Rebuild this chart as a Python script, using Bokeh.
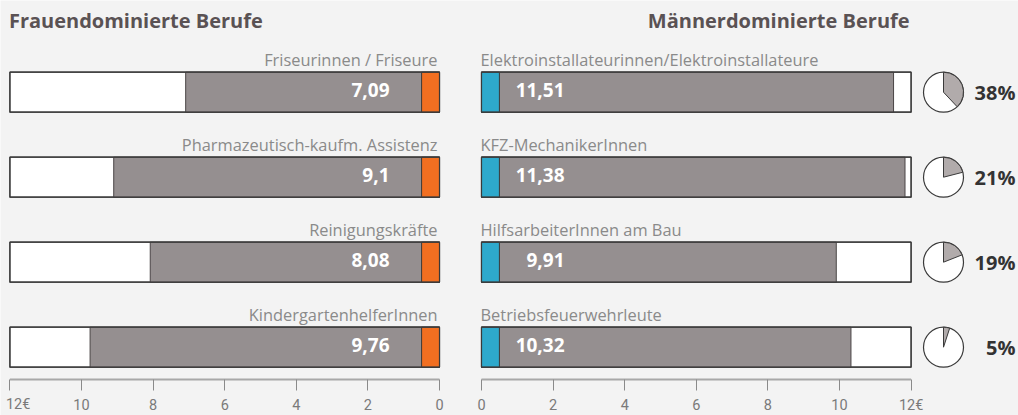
import math
from bokeh.plotting import figure
from bokeh.models import Range1d, LinearAxis, FixedTicker, CustomJSTickFormatter
from bokeh.core.properties import value
from bokeh.embed import file_html
from bokeh.resources import INLINE

# ---------------- data ----------------
title_women = "Frauendominierte Berufe"
title_men = "Männerdominierte Berufe"

women_jobs = ["Friseurinnen / Friseure", "Pharmazeutisch-kaufm. Assistenz",
              "Reinigungskräfte", "KindergartenhelferInnen"]
women_wage = [7.09, 9.10, 8.08, 9.76]
women_wage_text = ["7,09", "9,1", "8,08", "9,76"]

men_jobs = ["Elektroinstallateurinnen/Elektroinstallateure", "KFZ-MechanikerInnen",
            "HilfsarbeiterInnen am Bau", "Betriebsfeuerwehrleute"]
men_wage = [11.51, 11.83, 9.91, 10.32]          # bar lengths as drawn
men_wage_text = ["11,51", "11,38", "9,91", "10,32"]

women_share = [38, 21, 19, 5]                    # share of women, %
share_text = ["38%", "21%", "19%", "5%"]

scale_max = 12
marker_size = 0.5
tick_values = [0, 2, 4, 6, 8, 10, 12]
tick_unit = "€"

# ---------------- layout (pixels) ----------------
W, H = 1018, 415
PX = 35.8            # pixels per euro
ZERO_L = 439         # px of the women's 0
ZERO_R = 481         # px of the men's 0
CENTER = (ZERO_L + ZERO_R) / 2
ROW0 = 91.7          # px of first row centre
ROW_STEP = 85.0
AXIS_PX = 380
BAR_PX = 40
PIE_PX = 943
PCT_PX = 1015

BG = "#f3f3f3"
GREY = "#958f90"
PIE_GREY = "#b1abab"
EDGE = "#3a3a3a"
LABEL = "#8a8a8a"
TITLE = "#5a5254"
ORANGE = "#f26f21"
BLUE = "#2ea9cc"
FONT = "Open Sans"
TICK_FONT = "Roboto"
TICK_COLOR = "#7a7a7a"

rows = list(range(len(women_jobs)))
bar_h = BAR_PX / ROW_STEP
g = (ZERO_R - CENTER) / PX


def y_of(px):
    return (px - ROW0) / ROW_STEP


p = figure(width=W, height=H, output_backend="svg", toolbar_location=None,
           x_range=Range1d(-CENTER / PX, (W - CENTER) / PX),
           y_range=Range1d(y_of(H), y_of(0)),
           x_axis_location=None, y_axis_location=None,
           min_border_left=0, min_border_right=0, min_border_top=0, min_border_bottom=0,
           background_fill_color=BG, border_fill_color=BG, outline_line_color=None)
p.grid.visible = False
p.extra_x_ranges = {
    "women": Range1d(ZERO_L / PX, (ZERO_L - W) / PX),
    "men": Range1d(-ZERO_R / PX, (W - ZERO_R) / PX),
}

# ---------------- bars ----------------
for rng, wages, marker_col in (("women", women_wage, ORANGE), ("men", men_wage, BLUE)):
    p.hbar(y=rows, left=0, right=scale_max, height=bar_h, x_range_name=rng,
           fill_color="white", line_color=EDGE, line_width=1.2)
    p.hbar(y=rows, left=0, right=wages, height=bar_h, x_range_name=rng,
           fill_color=GREY, line_color="#4a4546", line_width=1)
    p.hbar(y=rows, left=0, right=marker_size, height=bar_h, x_range_name=rng,
           fill_color=marker_col, line_color=EDGE, line_width=1)
    p.hbar(y=rows, left=0, right=scale_max, height=bar_h, x_range_name=rng,
           fill_color=None, line_color=EDGE, line_width=1.2)

# ---------------- texts ----------------
p.text(x=0, y=rows, text=women_jobs, x_range_name="women", x_offset=-2, y_offset=-32.5,
       text_align="right", text_baseline="middle", text_color=LABEL,
       text_font=value(FONT), text_font_size="16.4px")
p.text(x=0, y=rows, text=men_jobs, x_range_name="men", x_offset=-1, y_offset=-32.5,
       text_align="left", text_baseline="middle", text_color=LABEL,
       text_font=value(FONT), text_font_size="16.4px")

p.text(x=0, y=rows, text=women_wage_text, x_range_name="women", x_offset=-50, y_offset=-2,
       text_align="right", text_baseline="middle", text_color="white",
       text_font=value(FONT), text_font_style="bold", text_font_size="19px")
p.text(x=0, y=rows, text=men_wage_text, x_range_name="men", x_offset=83, y_offset=-2,
       text_align="right", text_baseline="middle", text_color="white",
       text_font=value(FONT), text_font_style="bold", text_font_size="19px")

title_y = y_of(19.5)
p.text(x=[scale_max], y=[title_y], text=[title_women], x_range_name="women", x_offset=-1,
       text_align="left", text_baseline="middle", text_color=TITLE,
       text_font=value(FONT), text_font_style="bold", text_font_size="20px")
p.text(x=[scale_max], y=[title_y], text=[title_men], x_range_name="men", x_offset=-1.5,
       text_align="right", text_baseline="middle", text_color=TITLE,
       text_font=value(FONT), text_font_style="bold", text_font_size="20px")

# ---------------- pies ----------------
pie_x = (PIE_PX - ZERO_R) / PX
p.scatter(x=pie_x, y=rows, size=40, marker="circle", x_range_name="men",
          fill_color="white", line_color=EDGE, line_width=1.2)
p.wedge(x=pie_x, y=rows, radius=20, radius_units="screen", x_range_name="men",
        start_angle=[math.pi / 2 - 2 * math.pi * s / 100 for s in women_share],
        end_angle=math.pi / 2, direction="anticlock",
        fill_color=PIE_GREY, line_color=EDGE, line_width=1)
p.text(x=(PCT_PX - ZERO_R) / PX, y=rows, text=share_text, x_range_name="men", y_offset=0,
       text_align="right", text_baseline="middle", text_color="#333333",
       text_font=value(FONT), text_font_style="bold", text_font_size="20px")

# ---------------- axis ----------------
axis_y = y_of(AXIS_PX - 1)
for rng in ("women", "men"):
    p.segment(x0=0, x1=scale_max, y0=axis_y, y1=axis_y, x_range_name=rng,
              line_color="#a8a8a8", line_width=2)

ticks = [-(g + t) for t in tick_values] + [g + t for t in tick_values]
fmt = CustomJSTickFormatter(args=dict(g=g, maxv=scale_max, unit=tick_unit), code="""
    const v = Math.round(Math.abs(tick) - g);
    if (v == maxv) return tick < 0 ? "" : String(v) + unit;
    return String(v);
""")
ax = LinearAxis(ticker=FixedTicker(ticks=ticks), formatter=fmt,
                fixed_location=y_of(AXIS_PX),
                axis_line_color=None, major_tick_line_color="#8a8a8a",
                major_tick_out=10, major_tick_in=1, minor_tick_line_color=None,
                major_label_text_font=TICK_FONT,
                major_label_text_font_size="14.5px", major_label_text_color=TICK_COLOR,
                major_label_standoff=6)
p.add_layout(ax, "below")

# left end label of the women's scale, kept inside the page
p.text(x=[scale_max], y=[y_of(404)], text=[str(scale_max) + tick_unit], x_range_name="women",
       x_offset=-4, text_align="left", text_baseline="middle", text_color=TICK_COLOR,
       text_font=value(TICK_FONT), text_font_size="14.5px")

html = file_html(p, INLINE)
html = html.replace("<body>", '<body style="background-color:#f3f3f3;">', 1)
open("out.html", "w").write(html)
